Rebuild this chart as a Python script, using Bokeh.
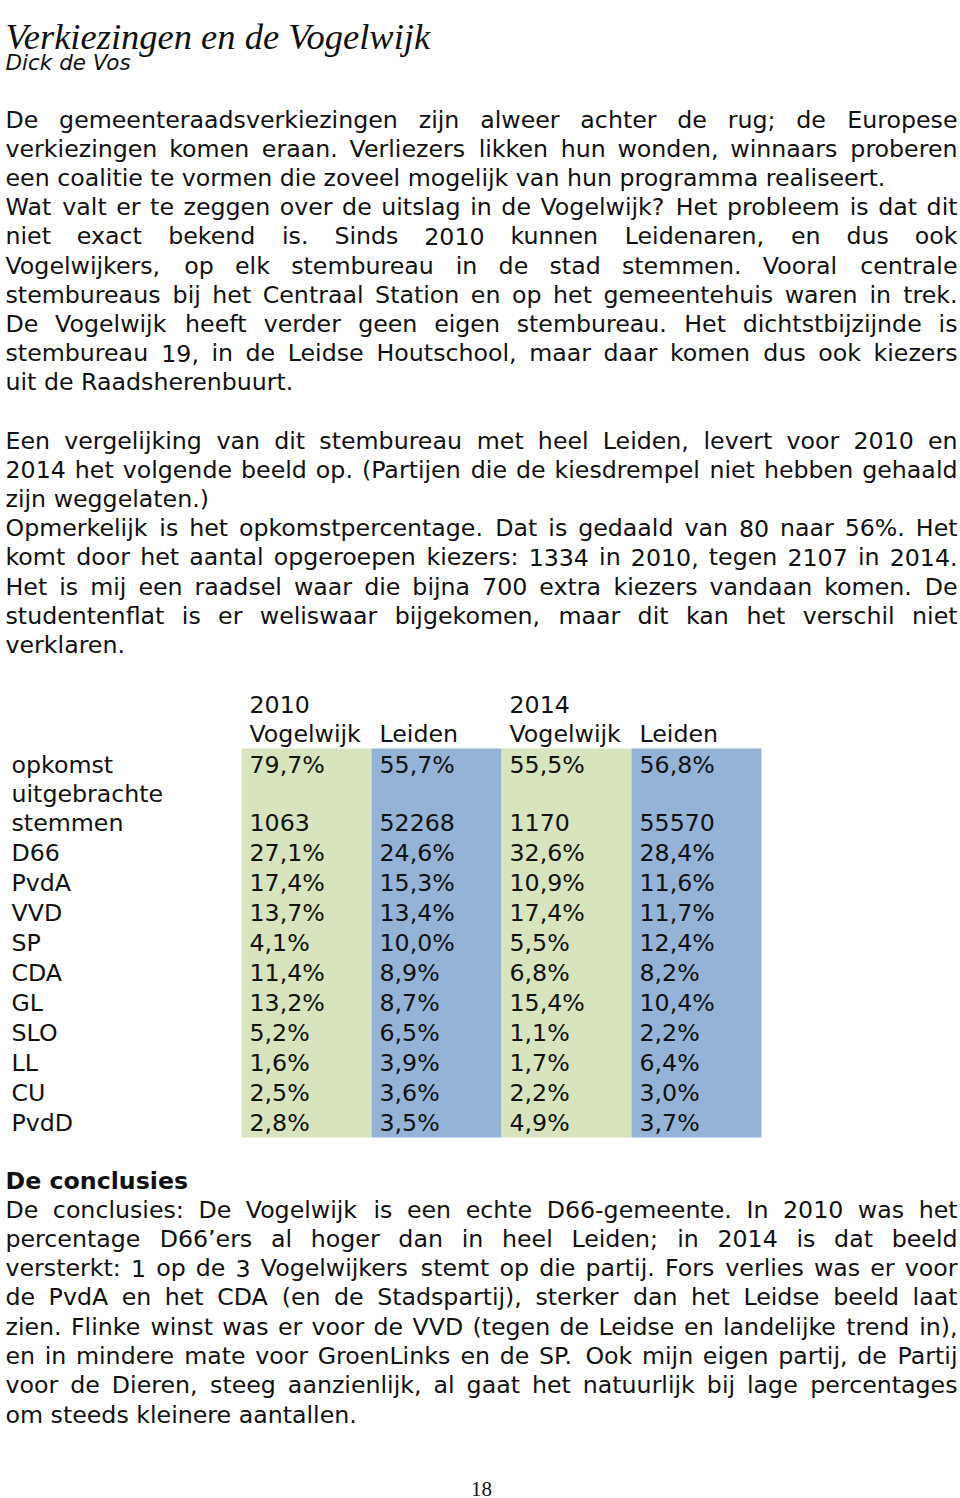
from bokeh.plotting import figure
from bokeh.models import Range1d
from bokeh.core.properties import value
from bokeh.embed import file_html
from bokeh.resources import INLINE

# ---------------- data ----------------
title = "Verkiezingen en de Vogelwijk"
author = "Dick de Vos"

intro_lines = [
    ("De gemeenteraadsverkiezingen zijn alweer achter de rug; de Europese", True),
    ("verkiezingen komen eraan. Verliezers likken hun wonden, winnaars proberen", True),
    ("een coalitie te vormen die zoveel mogelijk van hun programma realiseert.", False),
    ("Wat valt er te zeggen over de uitslag in de Vogelwijk? Het probleem is dat dit", True),
    ("niet exact bekend is. Sinds 2010 kunnen Leidenaren, en dus ook", True),
    ("Vogelwijkers, op elk stembureau in de stad stemmen. Vooral centrale", True),
    ("stembureaus bij het Centraal Station en op het gemeentehuis waren in trek.", True),
    ("De Vogelwijk heeft verder geen eigen stembureau. Het dichtstbijzijnde is", True),
    ("stembureau 19, in de Leidse Houtschool, maar daar komen dus ook kiezers", True),
    ("uit de Raadsherenbuurt.", False),
]
second_lines = [
    ("Een vergelijking van dit stembureau met heel Leiden, levert voor 2010 en", True),
    ("2014 het volgende beeld op. (Partijen die de kiesdrempel niet hebben gehaald", True),
    ("zijn weggelaten.)", False),
    ("Opmerkelijk is het opkomstpercentage. Dat is gedaald van 80 naar 56%. Het", True),
    ("komt door het aantal opgeroepen kiezers: 1334 in 2010, tegen 2107 in 2014.", True),
    ("Het is mij een raadsel waar die bijna 700 extra kiezers vandaan komen. De", True),
    ("studentenflat is er weliswaar bijgekomen, maar dit kan het verschil niet", True),
    ("verklaren.", False),
]
concl_heading = "De conclusies"
concl_lines = [
    ("De conclusies: De Vogelwijk is een echte D66-gemeente. In 2010 was het", True),
    ("percentage D66\u2019ers al hoger dan in heel Leiden; in 2014 is dat beeld", True),
    ("versterkt: 1 op de 3 Vogelwijkers stemt op die partij. Fors verlies was er voor", True),
    ("de PvdA en het CDA (en de Stadspartij), sterker dan het Leidse beeld laat", True),
    ("zien. Flinke winst was er voor de VVD (tegen de Leidse en landelijke trend in),", True),
    ("en in mindere mate voor GroenLinks en de SP. Ook mijn eigen partij, de Partij", True),
    ("voor de Dieren, steeg aanzienlijk, al gaat het natuurlijk bij lage percentages", True),
    ("om steeds kleinere aantallen.", False),
]
page_number = "18"

years = ["2010", "2014"]
columns = ["Vogelwijk", "Leiden", "Vogelwijk", "Leiden"]
opkomst = [79.7, 55.7, 55.5, 56.8]
stemmen = [1063, 52268, 1170, 55570]
parties = ["D66", "PvdA", "VVD", "SP", "CDA", "GL", "SLO", "LL", "CU", "PvdD"]
vogelwijk_2010 = [27.1, 17.4, 13.7, 4.1, 11.4, 13.2, 5.2, 1.6, 2.5, 2.8]
leiden_2010 = [24.6, 15.3, 13.4, 10.0, 8.9, 8.7, 6.5, 3.9, 3.6, 3.5]
vogelwijk_2014 = [32.6, 10.9, 17.4, 5.5, 6.8, 15.4, 1.1, 1.7, 2.2, 4.9]
leiden_2014 = [28.4, 11.6, 11.7, 12.4, 8.2, 10.4, 2.2, 6.4, 3.0, 3.7]

# ---------------- layout ----------------
W, H = 960, 1498
SX = 1.0
FS = 23.7
LEFT, RIGHT = 5, 957

ADV = {' ': 651, '!': 823, '(': 799, ')': 799, ',': 651, '-': 739, '.': 651, '%': 1946,
       ':': 690, ';': 690, '?': 1087, '\u2019': 651, "'": 563,
       'A': 1401, 'B': 1405, 'C': 1430, 'D': 1577, 'E': 1294, 'F': 1178, 'G': 1587,
       'H': 1540, 'I': 604, 'J': 604, 'K': 1343, 'L': 1141, 'M': 1767, 'N': 1532,
       'O': 1612, 'P': 1235, 'Q': 1612, 'R': 1423, 'S': 1300, 'T': 1251, 'U': 1499,
       'V': 1401, 'W': 2025, 'X': 1403, 'Y': 1251, 'Z': 1403,
       'a': 1255, 'b': 1300, 'c': 1126, 'd': 1300, 'e': 1260, 'f': 721, 'g': 1300,
       'h': 1298, 'i': 569, 'j': 569, 'k': 1186, 'l': 569, 'm': 1995, 'n': 1298,
       'o': 1253, 'p': 1300, 'q': 1300, 'r': 842, 's': 1067, 't': 803, 'u': 1298,
       'v': 1212, 'w': 1675, 'x': 1212, 'y': 1212, 'z': 1075}
for d in "0123456789":
    ADV[d] = 1303


def text_width(s, fs=FS):
    return sum(ADV.get(c, 1200) for c in s) * fs / 2048 / SX


p = figure(width=W, height=H, x_range=Range1d(0, W), y_range=Range1d(H, 0),
           output_backend="svg", toolbar_location=None, x_axis_type=None, y_axis_type=None,
           min_border=0, min_border_left=0, min_border_right=0, min_border_top=0,
           min_border_bottom=0)
p.grid.visible = False
p.outline_line_color = None
p.background_fill_color = "white"
p.border_fill_color = "white"

words_x, words_y, words_t = [], [], []
right_x, right_y, right_t = [], [], []


def add_lines(lines, y_start, step):
    for i, (line, justify) in enumerate(lines):
        y = y_start + i * step
        if not justify:
            words_x.append(LEFT); words_y.append(y); words_t.append(line)
            continue
        ws = line.split()
        widths = [text_width(w) for w in ws]
        gap = (RIGHT - LEFT - sum(widths)) / (len(ws) - 1)
        x = LEFT
        for j, (w, wd) in enumerate(zip(ws, widths)):
            if j == len(ws) - 1:
                right_x.append(RIGHT); right_y.append(y); right_t.append(w)
            else:
                words_x.append(x); words_y.append(y); words_t.append(w)
            x += wd + gap


add_lines(intro_lines, 119, 29.2)
add_lines(second_lines, 440, 29.2)
add_lines(concl_lines, 1209, 29.3)

# table backgrounds
col_x = [249, 379, 509, 639]
col_left = [241, 371, 501, 631]
col_right = [371, 501, 631, 761]
col_colors = ["#d7e4bd", "#95b3d7", "#d7e4bd", "#95b3d7"]
row_op_y = 764
row_st_y = 822
party_y0 = 852
party_step = 30
band_top = row_op_y - 16
band_bottom = party_y0 + party_step * (len(parties) - 1) + 15
p.quad(left=col_left, right=col_right, top=[band_top] * 4, bottom=[band_bottom] * 4,
       fill_color=col_colors, line_color=None)

# table texts
tx, ty, tt = [], [], []
for k, yr in enumerate(years):
    tx.append(col_x[2 * k]); ty.append(704); tt.append(yr)
for k, c in enumerate(columns):
    tx.append(col_x[k]); ty.append(733); tt.append(c)
tx += [11, 11, 11]; ty += [row_op_y, row_op_y + 29, row_st_y]; tt += ["opkomst", "uitgebrachte", "stemmen"]


def pct(v):
    return f"{v:.1f}".replace(".", ",") + "%"


for k in range(4):
    tx.append(col_x[k]); ty.append(row_op_y); tt.append(pct(opkomst[k]))
    tx.append(col_x[k]); ty.append(row_st_y); tt.append(str(stemmen[k]))
series = [vogelwijk_2010, leiden_2010, vogelwijk_2014, leiden_2014]
for i, party in enumerate(parties):
    y = party_y0 + i * party_step
    tx.append(11); ty.append(y); tt.append(party)
    for k in range(4):
        tx.append(col_x[k]); ty.append(y); tt.append(pct(series[k][i]))

font = value("DejaVu Sans")
fs = value(f"{FS}px")
p.text(x=words_x, y=words_y, text=words_t, text_font=font, text_font_size=fs,
       text_baseline="middle", text_align="left", text_color="#111111")
p.text(x=right_x, y=right_y, text=right_t, text_font=font, text_font_size=fs,
       text_baseline="middle", text_align="right", text_color="#111111")
p.text(x=tx, y=ty, text=tt, text_font=font, text_font_size=fs,
       text_baseline="middle", text_align="left", text_color="#111111")

# heading, title, author, page number
p.text(x=[LEFT], y=[1180], text=[concl_heading], text_font=font, text_font_size=fs,
       text_font_style="bold", text_baseline="middle", text_align="left", text_color="#111111")
p.text(x=[LEFT], y=[36], text=[title], text_font=value("Liberation Serif"),
       text_font_size=value("36.5px"), text_font_style="italic",
       text_baseline="alphabetic", text_align="left", text_color="#111111")
p.text(x=[LEFT], y=[62], text=[author], text_font=font, text_font_size=value("21.5px"),
       text_font_style="italic", text_baseline="middle", text_align="left", text_color="#111111")
p.text(x=[481], y=[1488], text=[page_number], text_font=value("Liberation Serif"),
       text_font_size=value("21px"), text_baseline="middle", text_align="center",
       text_color="#111111")

open("out.html", "w").write(file_html(p, INLINE))
